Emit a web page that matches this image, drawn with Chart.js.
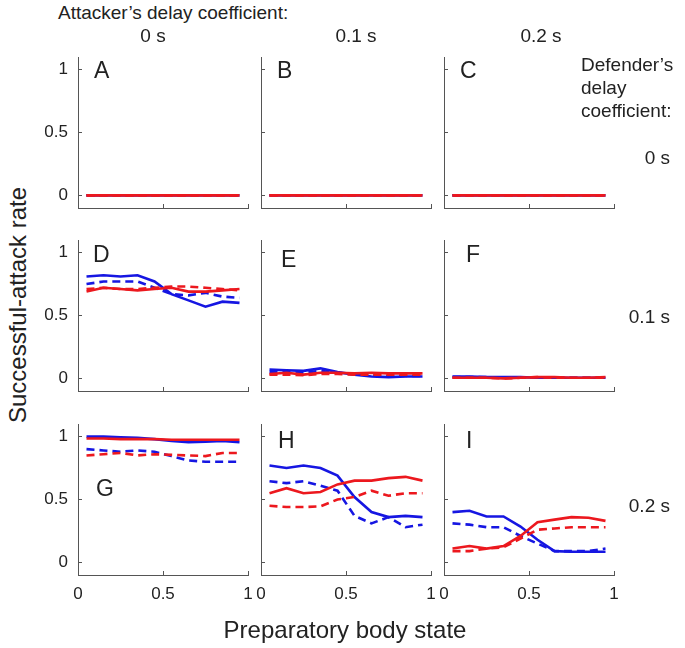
<!DOCTYPE html>
<html>
<head>
<meta charset="utf-8">
<script src="https://cdn.jsdelivr.net/npm/chart.js@4.4.0/dist/chart.umd.min.js"></script>
<style>
  body { margin: 0; background: #fff; }
  #wrap { position: relative; width: 685px; height: 648px; overflow: hidden; font-family: "Liberation Sans", Arial, sans-serif; color: #222; }
  #wrap canvas { position: absolute; }
  .txt { position: absolute; white-space: nowrap; line-height: 1; }
  .mid { transform: translate(-50%, -50%); }
  .letter { position: absolute; font-size: 23px; line-height: 1; }
</style>
</head>
<body>
<div id="wrap"></div>
<script>
// bin centres of the preparatory body state
const xBins = [0.05, 0.15, 0.25, 0.35, 0.45, 0.55, 0.65, 0.75, 0.85, 0.95];
const xTicks = [0, 0.5, 1];
const yTicks = [0, 0.5, 1];
const attackerDelays = ['0 s', '0.1 s', '0.2 s'];
const defenderDelays = ['0 s', '0.1 s', '0.2 s'];
const panelLetters = ['A', 'B', 'C', 'D', 'E', 'F', 'G', 'H', 'I'];

// row 1 (defender 0 s): everything stays at zero
const flatZero = [0, 0, 0, 0, 0, 0, 0, 0, 0, 0];

// D
const dBlue     = [0.81, 0.82, 0.81, 0.82, 0.77, 0.67, 0.62, 0.57, 0.61, 0.60];
const dBlueDash = [0.75, 0.77, 0.77, 0.77, 0.72, 0.67, 0.66, 0.68, 0.65, 0.64];
const dRed      = [0.69, 0.72, 0.71, 0.70, 0.71, 0.72, 0.69, 0.69, 0.70, 0.71];
const dRedDash  = [0.71, 0.72, 0.71, 0.71, 0.72, 0.73, 0.73, 0.72, 0.71, 0.70];
// E
const eBlue     = [0.07, 0.065, 0.06, 0.08, 0.05, 0.03, 0.015, 0.01, 0.015, 0.015];
const eBlueDash = [0.05, 0.05, 0.045, 0.06, 0.045, 0.035, 0.025, 0.02, 0.02, 0.02];
const eRed      = [0.035, 0.045, 0.03, 0.045, 0.045, 0.04, 0.045, 0.04, 0.04, 0.04];
const eRedDash  = [0.03, 0.03, 0.025, 0.035, 0.035, 0.03, 0.03, 0.03, 0.03, 0.03];
// F
const fBlue     = [0.015, 0.015, 0.01, 0.01, 0.01, 0.005, 0.005, 0.005, 0.005, 0.005];
const fBlueDash = [0.01, 0.01, 0.01, 0.005, 0.005, 0.005, 0.005, 0.005, 0.005, 0.005];
const fRed      = [0.005, 0.005, 0.005, 0.0, 0.005, 0.01, 0.01, 0.005, 0.005, 0.01];
const fRedDash  = [0.005, 0.005, 0.005, 0.0, 0.005, 0.01, 0.005, 0.005, 0.005, 0.005];
// G
const gBlue     = [1.0, 1.0, 0.995, 0.99, 0.98, 0.965, 0.955, 0.96, 0.965, 0.955];
const gBlueDash = [0.90, 0.89, 0.88, 0.89, 0.88, 0.845, 0.81, 0.80, 0.80, 0.80];
const gRed      = [0.985, 0.985, 0.98, 0.98, 0.98, 0.975, 0.975, 0.975, 0.975, 0.975];
const gRedDash  = [0.85, 0.86, 0.87, 0.85, 0.86, 0.855, 0.85, 0.845, 0.87, 0.87];
// H
const hBlue     = [0.77, 0.75, 0.77, 0.75, 0.69, 0.52, 0.40, 0.36, 0.37, 0.36];
const hBlueDash = [0.645, 0.63, 0.645, 0.61, 0.57, 0.37, 0.31, 0.36, 0.28, 0.30];
const hRed      = [0.55, 0.59, 0.55, 0.56, 0.62, 0.65, 0.65, 0.67, 0.68, 0.65];
const hRedDash  = [0.45, 0.44, 0.44, 0.445, 0.50, 0.52, 0.57, 0.53, 0.55, 0.55];
// I
const iBlue     = [0.40, 0.41, 0.365, 0.365, 0.285, 0.18, 0.09, 0.085, 0.085, 0.085];
const iBlueDash = [0.31, 0.30, 0.28, 0.28, 0.21, 0.15, 0.09, 0.09, 0.09, 0.11];
const iRed      = [0.11, 0.13, 0.11, 0.13, 0.21, 0.32, 0.34, 0.36, 0.355, 0.33];
const iRedDash  = [0.09, 0.09, 0.11, 0.12, 0.19, 0.26, 0.27, 0.28, 0.28, 0.28];

// order = drawing priority, first one ends up on top
const panelSeries = [
  [flatZero, flatZero, flatZero, flatZero],
  [flatZero, flatZero, flatZero, flatZero],
  [flatZero, flatZero, flatZero, flatZero],
  [dRed, dRedDash, dBlue, dBlueDash],
  [eRed, eRedDash, eBlue, eBlueDash],
  [fRed, fRedDash, fBlue, fBlueDash],
  [gRed, gRedDash, gBlue, gBlueDash],
  [hRed, hRedDash, hBlue, hBlueDash],
  [iRed, iRedDash, iBlue, iBlueDash]
];

const RED = 'rgb(236, 24, 30)';
const BLUE = 'rgb(22, 22, 226)';
const lineStyles = [
  { color: RED, dash: [] },
  { color: RED, dash: [8, 5] },
  { color: BLUE, dash: [] },
  { color: BLUE, dash: [8, 5] }
];

const FONT = '"Liberation Sans", Arial, sans-serif';
const colLeft = [78, 261, 444];
const rowTop = [57, 240, 424];
const plotW = 170, plotH = 151;
const padL = 45, padT = 6, padR = 6, padB = 30;
// letter offsets inside each panel (x, y of cap top)
const letterPos = [[16, 4], [16, 4], [16, 4], [15, 5], [20, 10], [22, 5], [18, 55], [17, 7], [22, 7]];

const wrap = document.getElementById('wrap');

function addText(str, x, y, size, cls, extra) {
  const d = document.createElement('div');
  d.className = 'txt ' + (cls || '');
  d.textContent = str;
  d.style.left = x + 'px';
  d.style.top = y + 'px';
  d.style.fontSize = size + 'px';
  if (extra) Object.assign(d.style, extra);
  wrap.appendChild(d);
  return d;
}

// keep the plot box fixed: no automatic padding for tick labels
function fixPadding(s) {
  s.paddingTop = 0; s.paddingBottom = 0; s.paddingLeft = 0; s.paddingRight = 0;
}

function makePanel(i) {
  const row = Math.floor(i / 3), col = i % 3;
  const canvas = document.createElement('canvas');
  canvas.width = plotW + padL + padR;
  canvas.height = plotH + padT + padB;
  canvas.style.left = (colLeft[col] - padL) + 'px';
  canvas.style.top = (rowTop[row] - padT) + 'px';
  wrap.appendChild(canvas);

  const axisGrid = { drawOnChartArea: false, drawTicks: true, tickLength: -4, color: '#555', lineWidth: 1 };
  const tickFont = { family: FONT, size: 17 };

  new Chart(canvas, {
    type: 'line',
    data: {
      datasets: lineStyles.map((st, k) => ({
        data: xBins.map((x, j) => ({ x: x, y: panelSeries[i][k][j] })),
        borderColor: st.color,
        borderDash: st.dash,
        borderWidth: 2.6,
        pointRadius: 0,
        fill: false,
        tension: 0
      }))
    },
    options: {
      responsive: false,
      animation: false,
      devicePixelRatio: 1,
      layout: { padding: { left: 0, top: padT, right: padR, bottom: 0 } },
      plugins: { legend: { display: false }, tooltip: { enabled: false } },
      scales: {
        x: {
          type: 'linear', min: 0, max: 1,
          afterBuildTicks: s => { s.ticks = xTicks.map(v => ({ value: v })); },
          afterFit: s => { s.height = padB; fixPadding(s); },
          grid: axisGrid,
          border: { color: '#555', width: 1 },
          ticks: { display: row === 2, padding: 13, color: '#222', font: tickFont, maxRotation: 0, autoSkip: false, callback: v => String(v) }
        },
        y: {
          min: -0.1, max: 1.1,
          afterBuildTicks: s => { s.ticks = yTicks.map(v => ({ value: v })); },
          afterFit: s => { s.width = padL; fixPadding(s); },
          grid: axisGrid,
          border: { color: '#555', width: 1 },
          ticks: { display: col === 0, padding: 14, color: '#222', font: tickFont, autoSkip: false, callback: v => String(v) }
        }
      }
    }
  });

  const lp = letterPos[i];
  const l = document.createElement('div');
  l.className = 'letter';
  l.textContent = panelLetters[i];
  l.style.left = (colLeft[col] + lp[0]) + 'px';
  l.style.top = (rowTop[row] + lp[1] - 2) + 'px';
  wrap.appendChild(l);
}

for (let i = 0; i < 9; i++) makePanel(i);

// header texts
addText('Attacker\u2019s delay coefficient:', 58, 3, 19);
const attackerX = [153, 356, 541];
attackerDelays.forEach((t, c) => addText(t, attackerX[c], 35, 19, 'mid'));

addText('Defender\u2019s', 581, 55, 19);
addText('delay', 581, 78, 19);
addText('coefficient:', 581, 101, 19);
const defenderY = [157, 316, 505];
defenderDelays.forEach((t, r) => addText(t, 670, defenderY[r], 19, '', { transform: 'translate(-100%, -50%)' }));

// axis titles
addText('Successful-attack rate', 18, 305, 24, '', { transform: 'translate(-50%, -50%) rotate(-90deg)' });
addText('Preparatory body state', 345, 630, 24, 'mid');
</script>
</body>
</html>
